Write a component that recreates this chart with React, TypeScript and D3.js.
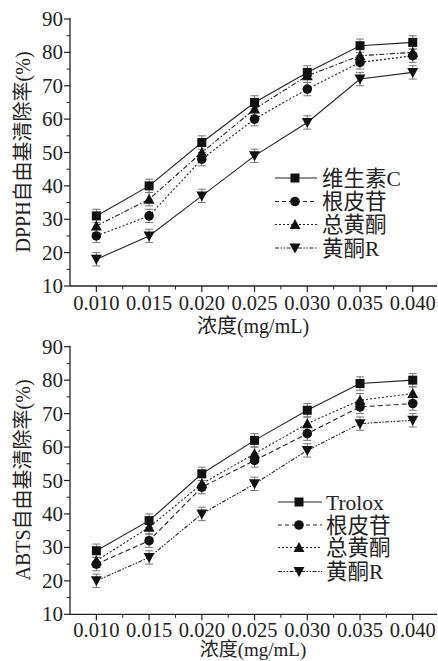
import React from "react";
import * as d3 from "d3";

const concentrations = [0.010, 0.015, 0.020, 0.025, 0.030, 0.035, 0.040];
const xTickLabels = ["0.010", "0.015", "0.020", "0.025", "0.030", "0.035", "0.040"];
const yTicks = [10, 20, 30, 40, 50, 60, 70, 80, 90];

// DPPH panel
const dpphNames = ["维生素C", "根皮苷", "总黄酮", "黄酮R"];
const dpphVitC = [31, 40, 53, 65, 74, 82, 83];
const dpphPhlorizin = [25, 31, 48, 60, 69, 77, 79];
const dpphTotalFlav = [28, 36, 50, 63, 73, 79, 80];
const dpphFlavR = [18, 25, 37, 49, 59, 72, 74];
const dpphErr = [2, 2, 2, 2, 2, 2, 2];

// ABTS panel
const abtsNames = ["Trolox", "根皮苷", "总黄酮", "黄酮R"];
const abtsTrolox = [29, 38, 52, 62, 71, 79, 80];
const abtsPhlorizin = [25, 32, 48, 56, 64, 72, 73];
const abtsTotalFlav = [26, 36, 49, 58, 67, 74, 76];
const abtsFlavR = [20, 27, 40, 49, 59, 67, 68];
const abtsErr = [2, 2, 2, 2, 2, 2, 2];

const FONT = "'Liberation Serif', 'Times New Roman', 'Noto Sans CJK SC', serif";

type Shape = "square" | "circle" | "up" | "down";

function Marker({ shape, x, y }: { shape: Shape; x: number; y: number }) {
  if (shape === "square") return <rect x={x - 4.5} y={y - 4.5} width={9} height={9} fill="#111" />;
  if (shape === "circle") return <circle cx={x} cy={y} r={4.8} fill="#111" />;
  if (shape === "up")
    return <path d={`M${x},${y - 5.5}L${x + 5.5},${y + 4.5}L${x - 5.5},${y + 4.5}Z`} fill="#111" />;
  return <path d={`M${x},${y + 5.5}L${x + 5.5},${y - 4.5}L${x - 5.5},${y - 4.5}Z`} fill="#111" />;
}

function T({
  x,
  y,
  anchor,
  size,
  children,
}: {
  x: number;
  y: number;
  anchor: "start" | "middle" | "end";
  size: number;
  children: React.ReactNode;
}) {
  return (
    <text x={x} y={y} textAnchor={anchor} fontSize={size} fontFamily={FONT} fill="#222">
      {children}
    </text>
  );
}

interface Series {
  name: string;
  values: number[];
  shape: Shape;
  dash: string;
  legendDash: string;
}

function Panel({
  top,
  bottom,
  series,
  err,
  yTitle,
  tickBaseline,
  titleBaseline,
  titleSize,
  yTitleCenter,
  legend,
}: {
  top: number;
  bottom: number;
  series: Series[];
  err: number[];
  yTitle: string;
  tickBaseline: number;
  titleBaseline: number;
  titleSize: number;
  yTitleCenter: number;
  legend: { x0: number; x1: number; xm: number; xt: number; ys: number[] };
}) {
  const x = d3.scaleLinear().domain([0.0075, 0.0423]).range([70, 437]);
  const y = d3.scaleLinear().domain([10, 90]).range([bottom, top]);
  const line = d3
    .line<number>()
    .x((_, i) => x(concentrations[i]))
    .y((v) => y(v));
  const minorY = d3.range(15, 90, 10);
  const minorX = d3.range(0.0125, 0.0423, 0.005);
  const stroke = "#222";
  const x0 = x.range()[0];
  return (
    <g>
      <line x1={x0} x2={x0} y1={y(90) - 1} y2={y(10)} stroke={stroke} strokeWidth={1.3} />
      <line x1={x0} x2={x.range()[1]} y1={y(10)} y2={y(10)} stroke={stroke} strokeWidth={1.3} />
      {yTicks.map((t) => (
        <g key={"yt" + t}>
          <line x1={x0 - 6} x2={x0} y1={y(t)} y2={y(t)} stroke={stroke} strokeWidth={1.2} />
          <T x={63} y={y(t) + 7} anchor="end" size={21}>
            {t}
          </T>
        </g>
      ))}
      {minorY.map((t) => (
        <line key={"ym" + t} x1={x0 - 3.5} x2={x0} y1={y(t)} y2={y(t)} stroke={stroke} strokeWidth={1} />
      ))}
      {concentrations.map((c, i) => (
        <g key={"xt" + i}>
          <line x1={x(c)} x2={x(c)} y1={y(10)} y2={y(10) + 6} stroke={stroke} strokeWidth={1.2} />
          <T x={x(c)} y={tickBaseline} anchor="middle" size={20.5}>
            {xTickLabels[i]}
          </T>
        </g>
      ))}
      {minorX.map((c, i) => (
        <line key={"xm" + i} x1={x(c)} x2={x(c)} y1={y(10)} y2={y(10) + 3.5} stroke={stroke} strokeWidth={1} />
      ))}
      <T x={253} y={titleBaseline} anchor="middle" size={titleSize}>
        浓度(mg/mL)
      </T>
      <text
        transform={`translate(${30},${yTitleCenter}) rotate(-90)`}
        textAnchor="middle"
        fontSize={20}
        fontFamily={FONT}
        fill="#222"
      >
        {yTitle}
      </text>
      {series.map((s, si) =>
        s.values.map((v, i) => {
          const cx = x(concentrations[i]);
          return (
            <g key={`e${si}-${i}`} stroke="#777" strokeWidth={1}>
              <line x1={cx} x2={cx} y1={y(v - err[i])} y2={y(v + err[i])} />
              <line x1={cx - 4} x2={cx + 4} y1={y(v - err[i])} y2={y(v - err[i])} />
              <line x1={cx - 4} x2={cx + 4} y1={y(v + err[i])} y2={y(v + err[i])} />
            </g>
          );
        })
      )}
      {series.map((s, si) => (
        <path key={"l" + si} d={line(s.values) || ""} fill="none" stroke="#222" strokeWidth={1.1} strokeDasharray={s.dash} />
      ))}
      {series.map((s, si) =>
        s.values.map((v, i) => <Marker key={`m${si}-${i}`} shape={s.shape} x={x(concentrations[i])} y={y(v)} />)
      )}
      {series.map((s, si) => (
        <g key={"lg" + si}>
          <line x1={legend.x0} x2={legend.x1} y1={legend.ys[si]} y2={legend.ys[si]} stroke="#222" strokeWidth={1.2} strokeDasharray={s.legendDash} />
          <Marker shape={s.shape} x={legend.xm} y={legend.ys[si]} />
          <T x={legend.xt} y={legend.ys[si] + 7.5} anchor="start" size={21.5}>
            {s.name}
          </T>
        </g>
      ))}
    </g>
  );
}

export default function App() {
  const dashed = "4,3";
  const dotted = "2,2";
  const dashDotDot = "4,1.5,1.5,1.5,1.5,1.5";
  const dpphSeries: Series[] = [
    { name: dpphNames[0], values: dpphVitC, shape: "square", dash: "", legendDash: "" },
    { name: dpphNames[1], values: dpphPhlorizin, shape: "circle", dash: dotted, legendDash: dashed },
    { name: dpphNames[2], values: dpphTotalFlav, shape: "up", dash: "5,2,1.5,2", legendDash: dotted },
    { name: dpphNames[3], values: dpphFlavR, shape: "down", dash: "", legendDash: dashDotDot },
  ];
  const abtsSeries: Series[] = [
    { name: abtsNames[0], values: abtsTrolox, shape: "square", dash: "", legendDash: "" },
    { name: abtsNames[1], values: abtsPhlorizin, shape: "circle", dash: "5,3", legendDash: dashed },
    { name: abtsNames[2], values: abtsTotalFlav, shape: "up", dash: dotted, legendDash: dotted },
    { name: abtsNames[3], values: abtsFlavR, shape: "down", dash: dashDotDot, legendDash: dashDotDot },
  ];
  return (
    <svg width={438} height={661} style={{ position: "absolute", left: 0, top: 0, background: "#fff" }}>
      <rect width={438} height={661} fill="#fff" />
      <Panel
        top={19}
        bottom={286}
        series={dpphSeries}
        err={dpphErr}
        yTitle="DPPH自由基清除率(%)"
        tickBaseline={310}
        titleBaseline={333}
        titleSize={20}
        yTitleCenter={152}
        legend={{ x0: 275, x1: 317, xm: 295, xt: 322, ys: [178, 201.5, 224.5, 248] }}
      />
      <Panel
        top={346.7}
        bottom={614.3}
        series={abtsSeries}
        err={abtsErr}
        yTitle="ABTS自由基清除率(%)"
        tickBaseline={637}
        titleBaseline={656}
        titleSize={19}
        yTitleCenter={480}
        legend={{ x0: 278, x1: 322, xm: 299, xt: 326, ys: [502, 525, 547.5, 571.5] }}
      />
    </svg>
  );
}
